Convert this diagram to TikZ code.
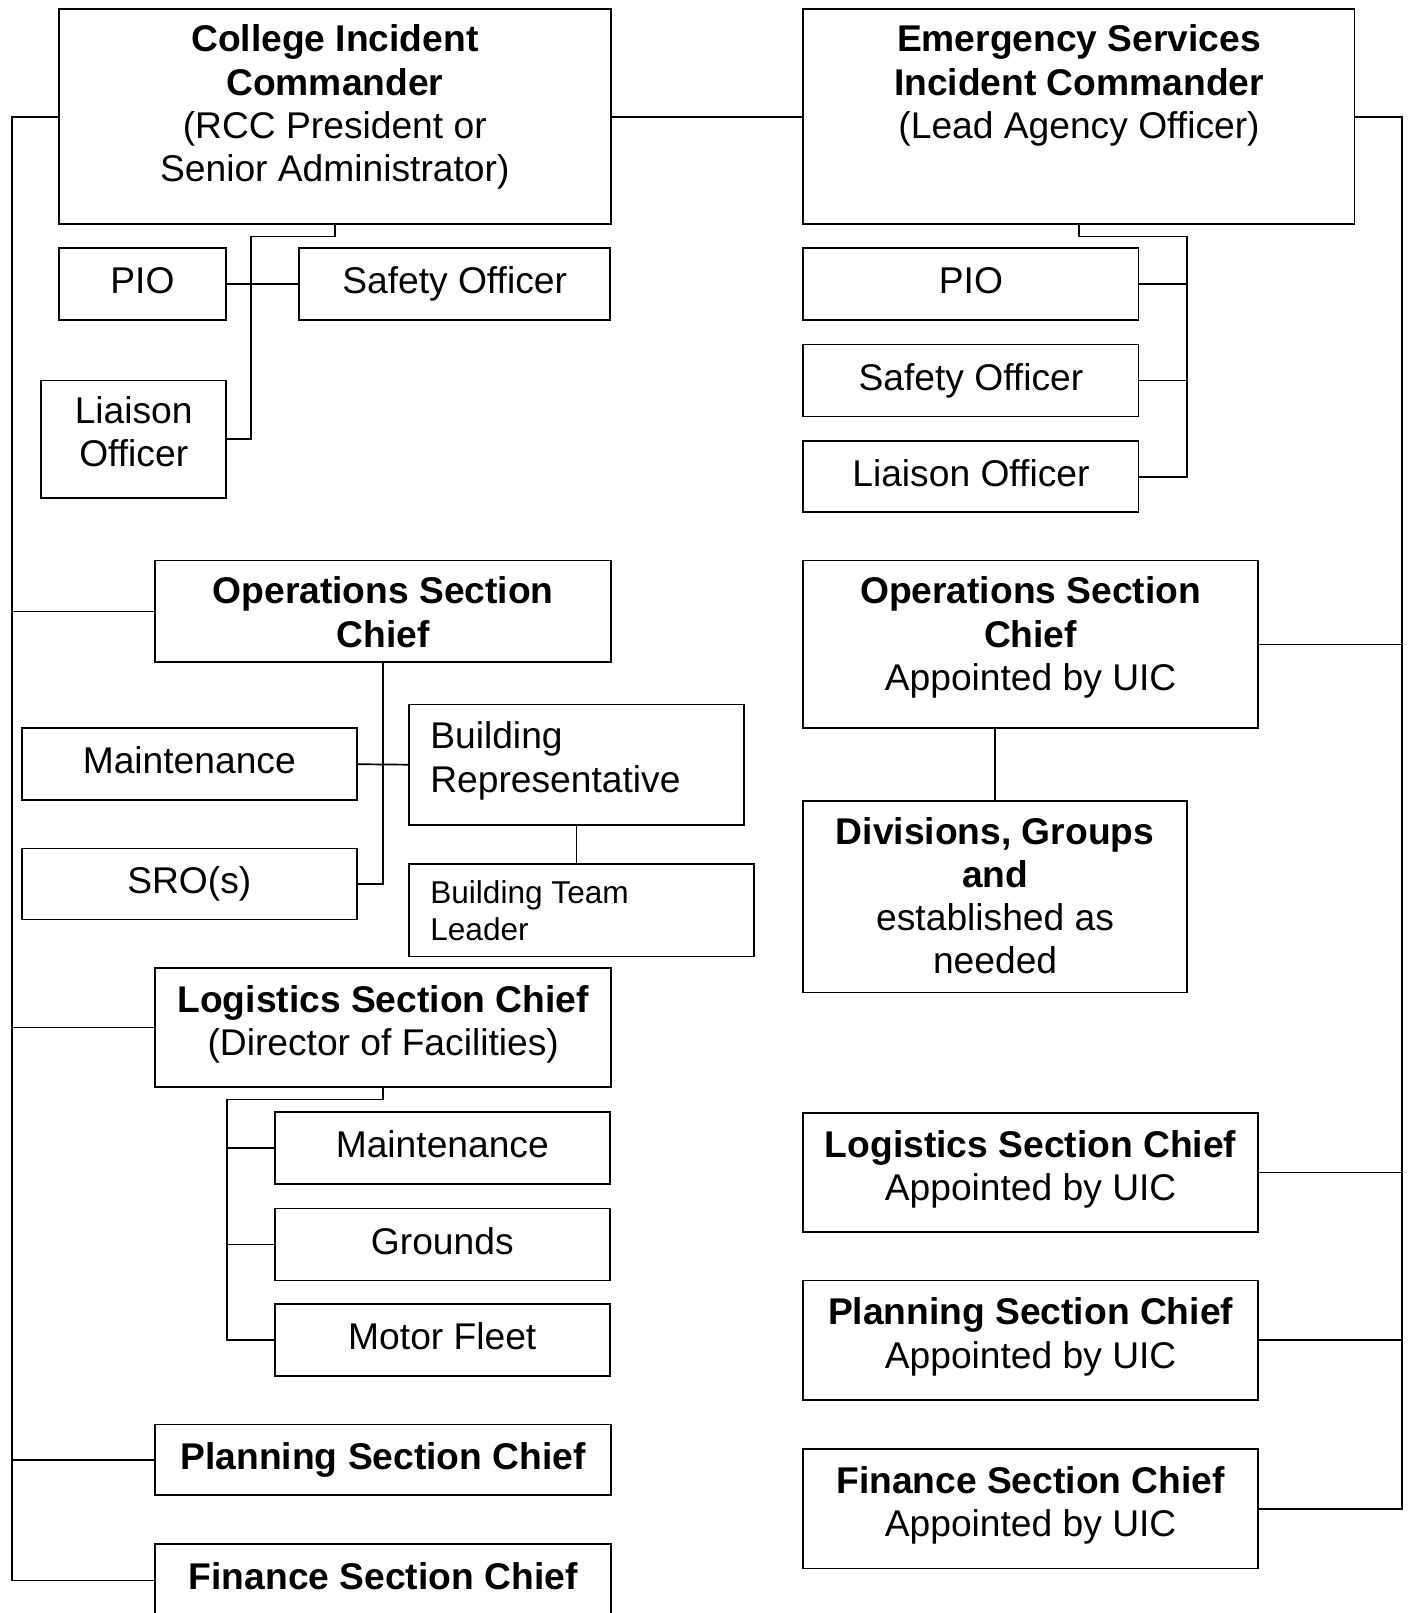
\documentclass[tikz,border=0pt]{standalone}
\usepackage{fontspec}
\setmainfont{Liberation Sans}
\usetikzlibrary{calc}
\newcommand\orgbox[5]{\node[bx, minimum width={(#4-#2)*0.5pt}, minimum height={(#5-#3)*0.5pt}] (#1) at ({(#2+#4)/2},{(#3+#5)/2}) {};}
\begin{document}
\begin{tikzpicture}[x=0.5pt,y=-0.5pt,
  bx/.style={draw, line width=0.95pt, inner sep=0pt, outer sep=0pt},
  tx/.style={inner sep=0pt, align=center, font=\fontsize{18.6}{21.6}\selectfont,
    execute at begin node=\strut, execute at end node=\strut},
  txs/.style={inner sep=0pt, align=left, anchor=west, font=\fontsize{15.8}{18.5}\selectfont,
    execute at begin node=\strut, execute at end node=\strut},
  ln/.style={line width=0.85pt}]
\fill[white] (0,0) rectangle (1409,1613);
\clip (0,0) rectangle (1409,1613);

% ---- boxes: left column
\orgbox{cic}{58.6}{9.3}{611}{224.2}
\orgbox{lpio}{58.6}{247.9}{226.3}{319.9}
\orgbox{lsafe}{299.3}{247.9}{609.9}{319.9}
\orgbox{lliai}{41.1}{380.5}{226.3}{497.8}
\orgbox{lops}{155.3}{560.5}{611}{662.4}
\orgbox{lmaint}{21.6}{728.2}{356.9}{800.2}
\orgbox{sro}{21.6}{848.5}{356.9}{919.5}
\orgbox{brep}{409.3}{704.5}{743.6}{824.9}
\orgbox{btl}{409.3}{863.9}{753.9}{956.5}
\orgbox{llog}{155.3}{967.8}{611}{1087.1}
\orgbox{lmainttwo}{274.6}{1111.8}{609.9}{1183.8}
\orgbox{grounds}{274.6}{1208.5}{609.9}{1280.5}
\orgbox{fleet}{274.6}{1304.1}{609.9}{1376.1}
\orgbox{lplan}{155.3}{1424.5}{611}{1495.4}
\orgbox{lfin}{155.3}{1543.8}{611}{1617}
% ---- boxes: right column
\orgbox{esic}{803.3}{9.3}{1354.5}{224.2}
\orgbox{rpio}{803.3}{247.9}{1138.5}{319.9}
\orgbox{rsafe}{803.3}{344.5}{1138.5}{416.5}
\orgbox{rliai}{803.3}{441.2}{1138.5}{512.2}
\orgbox{rops}{803.3}{560.5}{1257.9}{728.2}
\orgbox{div}{803.3}{801.2}{1186.9}{992.5}
\orgbox{rlog}{803.3}{1112.8}{1257.9}{1232.1}
\orgbox{rplan}{803.3}{1280.5}{1257.9}{1399.8}
\orgbox{rfin}{803.3}{1449.2}{1257.9}{1568.5}

% ---- texts
\node[tx] (cic-t) at (334.8,109.6) {\textbf{College Incident}\\\textbf{Commander}\\(RCC President or\\Senior Administrator)};
\node[tx] (lpio-t) at (142.4,285) {PIO};
\node[tx] (lsafe-t) at (454.6,285) {Safety Officer};
\node[tx] (lliai-t) at (133.7,438) {Liaison\\Officer};
\node[tx] (lops-t) at (383.2,618.5) {\textbf{Operations Section}\\\textbf{Chief}};
\node[tx] (lmaint-t) at (189.3,765.3) {Maintenance};
\node[tx] (sro-t) at (189.3,885.1) {SRO(s)};
\node[tx, align=left, anchor=west] (brep-t) at (429.9,763.5) {Building\\Representative};
\node[txs] (btl-t) at (429.9,916.2) {Building Team\\Leader};
\node[tx] (llog-t) at (383.2,1026.8) {\textbf{Logistics Section Chief}\\(Director of Facilities)};
\node[tx] (lmainttwo-t) at (442.3,1148.9) {Maintenance};
\node[tx] (grounds-t) at (442.3,1245.6) {Grounds};
\node[tx] (fleet-t) at (442.3,1341.2) {Motor Fleet};
\node[tx] (lplan-t) at (383.2,1461) {\textbf{Planning Section Chief}};
\node[tx] (lfin-t) at (383.2,1580.5) {\textbf{Finance Section Chief}};

\node[tx] (esic-t) at (1079,88.1) {\textbf{Emergency Services}\\\textbf{Incident Commander}\\(Lead Agency Officer)};
\node[tx] (rpio-t) at (970.9,285) {PIO};
\node[tx] (rsafe-t) at (970.9,381.6) {Safety Officer};
\node[tx] (rliai-t) at (970.9,477.8) {Liaison Officer};
\node[tx] (rops-t) at (1030.6,640) {\textbf{Operations Section}\\\textbf{Chief}\\Appointed by UIC};
\node[tx] (div-t) at (995.1,902.1) {\textbf{Divisions, Groups}\\\textbf{and}\\established as\\needed};
\node[tx] (rlog-t) at (1030.6,1171.9) {\textbf{Logistics Section Chief}\\Appointed by UIC};
\node[tx] (rplan-t) at (1030.6,1339.5) {\textbf{Planning Section Chief}\\Appointed by UIC};
\node[tx] (rfin-t) at (1030.6,1508.2) {\textbf{Finance Section Chief}\\Appointed by UIC};

% ---- junction coordinates
\coordinate (lbus) at (12.3,116.2);
\coordinate (rbus) at (1401.8,116.2);
\coordinate (lj) at (251,236.6);
\coordinate (rj) at (1186.9,236.6);
\coordinate (gj) at (227.3,1099.5);

% ---- connectors
\draw[ln] (cic.east) -- (esic.west);
\draw[ln] (cic.west) -- (cic.west -| lbus) -- (lfin.west -| lbus) -- (lfin.west);
\draw[ln] (lops.west) -- (lops.west -| lbus);
\draw[ln] (llog.west) -- (llog.west -| lbus);
\draw[ln] (lplan.west) -- (lplan.west -| lbus);
\draw[ln] (esic.east) -- (esic.east -| rbus) -- (rfin.east -| rbus) -- (rfin.east);
\draw[ln] (rops.east) -- (rops.east -| rbus);
\draw[ln] (rlog.east) -- (rlog.east -| rbus);
\draw[ln] (rplan.east) -- (rplan.east -| rbus);

\draw[ln] (cic.south) |- (lj) |- (lliai.east);
\draw[ln] (lpio.east) -- (lsafe.west);
\draw[ln] (esic.south) |- (rj) |- (rliai.east);
\draw[ln] (rpio.east) -- (rpio.east -| rj);
\draw[ln] (rsafe.east) -- (rsafe.east -| rj);

\draw[ln] (lops.south) |- (sro.east);
\draw[ln] (lmaint.east) -- (brep.west);
\draw[ln] (brep.south) -- (brep.south |- btl.north);

\draw[ln] (llog.south) |- (gj) |- (fleet.west);
\draw[ln] (lmainttwo.west) -- (lmainttwo.west -| gj);
\draw[ln] (grounds.west) -- (grounds.west -| gj);

\draw[ln] (div.north) -- (div.north |- rops.south);
\end{tikzpicture}
\end{document}
